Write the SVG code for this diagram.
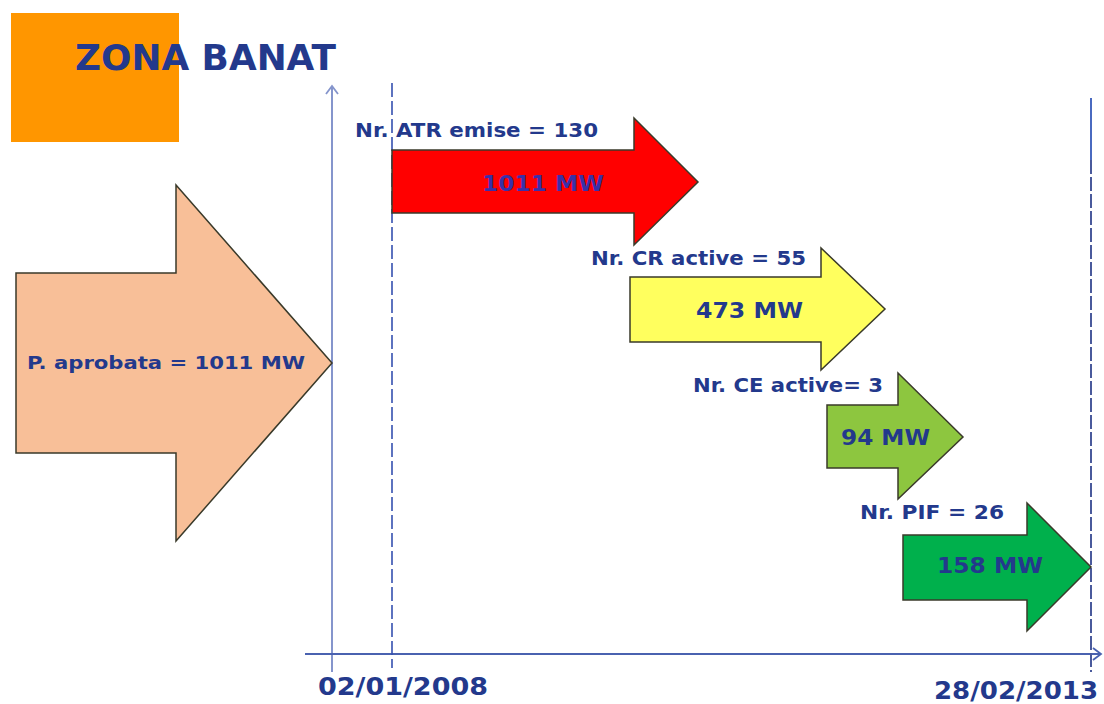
<svg xmlns="http://www.w3.org/2000/svg" width="1104" height="704" viewBox="0 0 1104 704">
<defs>
<style>
.lbl{font-family:"DejaVu Sans","Liberation Sans",sans-serif;font-weight:bold;fill:#23398C;}
.arr{stroke:#3A3A2A;stroke-width:1.5;stroke-linejoin:miter;}
.axis{fill:none;stroke:#4A62B0;stroke-width:2;}
</style>
<marker id="open" markerWidth="14" markerHeight="14" refX="10" refY="7" orient="auto" markerUnits="userSpaceOnUse">
<path d="M2,1 L10,7 L2,13" fill="none" stroke="#4A62B0" stroke-width="1.8"/>
</marker>
<marker id="openv" markerWidth="14" markerHeight="14" refX="10" refY="7" orient="auto" markerUnits="userSpaceOnUse">
<path d="M2,1 L10,7 L2,13" fill="none" stroke="#8595CC" stroke-width="1.8"/>
</marker>
</defs>
<rect width="1104" height="704" fill="#FFFFFF"/>
<g id="title">
<rect x="11" y="13" width="168" height="129" fill="#FF9600"/>
<text x="75" y="70" class="lbl" font-size="35" textLength="261" lengthAdjust="spacingAndGlyphs">ZONA BANAT</text>
</g>
<g id="connectors">
<line x1="332" y1="672" x2="332" y2="86" stroke="#8595CC" stroke-width="2" fill="none" marker-end="url(#openv)"/>
<line x1="305" y1="654" x2="1101" y2="654" class="axis" marker-end="url(#open)"/>
<line x1="392" y1="83" x2="392" y2="668" stroke="#3550B0" stroke-width="1.6" stroke-dasharray="14 4"/>
<line x1="1091" y1="98" x2="1091" y2="160" stroke="#4A6AC0" stroke-width="2"/>
<line x1="1091" y1="160" x2="1091" y2="672" stroke="#4A5A9C" stroke-width="2" stroke-dasharray="14 3"/>
</g>
<g id="node-aprobata">
<path class="arr" d="M16,273 L176,273 L176,185 L332,363 L176,541 L176,453 L16,453 Z" fill="#F8BF98"/>
<text x="27" y="369" class="lbl" font-size="18.5" textLength="278" lengthAdjust="spacingAndGlyphs">P. aprobata = 1011 MW</text>
</g>
<g id="node-atr">
<path class="arr" d="M392,150 L634,150 L634,118 L698,182 L634,245 L634,213 L392,213 Z" fill="#FF0000"/>
<text x="355" y="137" class="lbl" font-size="19.5" textLength="243" lengthAdjust="spacingAndGlyphs">Nr. ATR emise = 130</text>
<text x="482" y="191" class="lbl" font-size="21" style="fill:#3A30A8" textLength="122" lengthAdjust="spacingAndGlyphs">1011 MW</text>
</g>
<g id="node-cr">
<path class="arr" d="M630,277 L821,277 L821,248 L885,309 L821,370 L821,342 L630,342 Z" fill="#FFFF5E"/>
<text x="591" y="265" class="lbl" font-size="19.5" textLength="215" lengthAdjust="spacingAndGlyphs">Nr. CR active = 55</text>
<text x="696" y="318" class="lbl" font-size="21" textLength="107" lengthAdjust="spacingAndGlyphs">473 MW</text>
</g>
<g id="node-ce">
<path class="arr" d="M827,405 L898,405 L898,373 L963,437 L898,499 L898,468 L827,468 Z" fill="#8DC63F"/>
<text x="693" y="392" class="lbl" font-size="19.5" textLength="190" lengthAdjust="spacingAndGlyphs">Nr. CE active= 3</text>
<text x="841" y="445" class="lbl" font-size="21" textLength="89" lengthAdjust="spacingAndGlyphs">94 MW</text>
</g>
<g id="node-pif">
<path class="arr" d="M903,535 L1027,535 L1027,503 L1091,567 L1027,631 L1027,600 L903,600 Z" fill="#00B04C"/>
<text x="860" y="519" class="lbl" font-size="19.5" textLength="144" lengthAdjust="spacingAndGlyphs">Nr. PIF = 26</text>
<text x="937" y="573" class="lbl" font-size="21" textLength="106" lengthAdjust="spacingAndGlyphs">158 MW</text>
</g>
<g id="dates">
<text x="318" y="695" class="lbl" font-size="25" textLength="170" lengthAdjust="spacingAndGlyphs">02/01/2008</text>
<text x="934" y="699" class="lbl" font-size="25" textLength="164" lengthAdjust="spacingAndGlyphs">28/02/2013</text>
</g>
</svg>
